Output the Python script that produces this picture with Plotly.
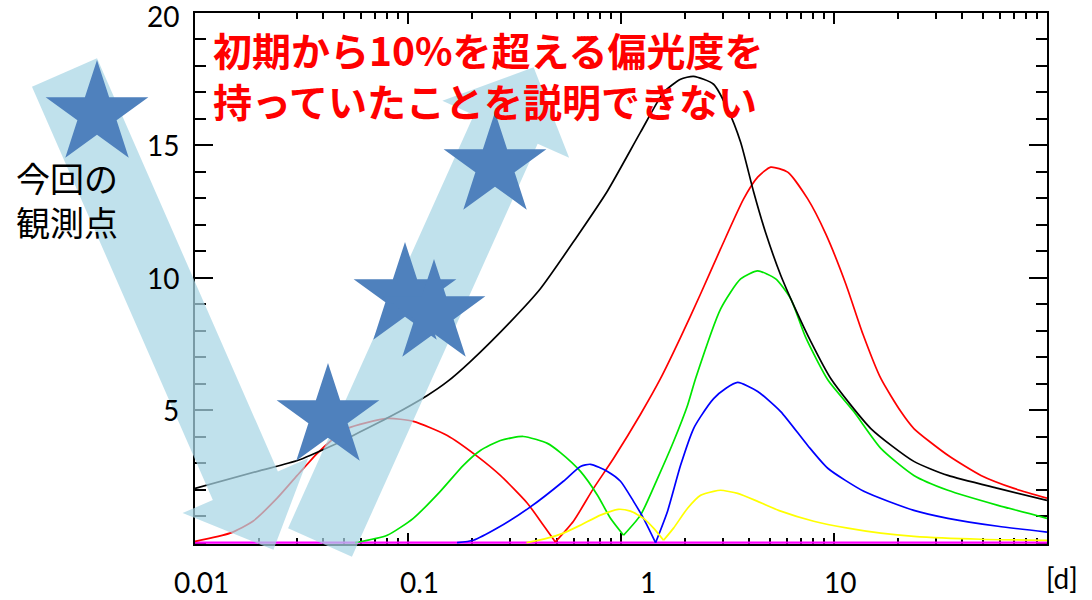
import math
import plotly.graph_objects as go

# ---------------- data ----------------
X_TICK_VALUES = [0.01, 0.1, 1, 10]
X_TICK_LABELS = ["0.01", "0.1", "1", "10"]
X_UNIT_LABEL = "[d]"
Y_TICK_VALUES = [5, 10, 15, 20]
Y_TICK_LABELS = ["5", "10", "15", "20"]

black_x = [0.01, 0.0202, 0.0305, 0.0431, 0.0553, 0.0825, 0.1232, 0.1529, 0.1962, 0.3024,
           0.4183, 0.611, 0.864, 1.235, 1.585, 1.904, 2.19, 2.72, 3.17, 3.645, 4.196,
           4.777, 5.621, 6.61, 7.777, 9.654, 14.89, 23.71, 34.25, 58.85, 100]
black_y = [2.05, 2.72, 3.11, 3.63, 4.05, 4.76, 5.56, 6.08, 6.84, 8.34,
           9.59, 11.47, 13.28, 15.50, 17.00, 17.50, 17.61, 17.31, 16.37, 15.12, 13.24,
           11.70, 10.10, 8.80, 7.60, 6.20, 4.31, 3.07, 2.54, 2.05, 1.60]

red_x = [0.01, 0.0146, 0.0187, 0.0243, 0.0302, 0.0375, 0.0431, 0.0518, 0.0799, 0.1059,
         0.1529, 0.2116, 0.2714, 0.3634, 0.4322, 0.492, 0.598, 0.743, 0.922, 1.235,
         1.534, 1.904, 2.365, 2.937, 3.765, 4.382, 5.044, 6.062, 7.526, 9.147,
         11.36, 13.65, 16.59, 20.6, 23.71, 34.25, 48.96, 69.98, 100]
red_y = [0.05, 0.36, 0.81, 1.68, 2.54, 3.37, 3.82, 4.31, 4.69, 4.58,
         4.05, 3.26, 2.54, 1.49, 0.66, 0.03, 0.81, 2.05, 3.18, 4.85,
         6.20, 7.75, 9.40, 11.10, 12.98, 13.80, 14.18, 13.99, 12.98, 11.66,
         9.77, 7.89, 6.20, 4.95, 4.31, 3.30, 2.54, 2.05, 1.68]

green_x = [0.0565, 0.0799, 0.1059, 0.1418, 0.1819, 0.2186, 0.2714, 0.348, 0.4514, 0.5195,
           0.6452, 0.7754, 0.8925, 1.0275, 1.235, 1.485, 1.765, 2.054, 2.24, 2.937,
           3.645, 4.382, 5.325, 6.262, 7.365, 9.348, 12.38, 16.59, 23.71, 34.25,
           58.85, 100]
green_y = [0.0, 0.28, 0.92, 1.94, 2.92, 3.48, 3.86, 4.01, 3.75, 3.40,
           2.69, 1.79, 0.92, 0.28, 1.04, 2.43, 3.82, 5.19, 6.20, 8.83,
           9.96, 10.26, 9.96, 9.21, 7.75, 6.15, 4.95, 3.56, 2.54, 1.98,
           1.41, 0.92]

blue_x = [0.17, 0.2026, 0.2627, 0.3754, 0.5366, 0.6452, 0.719, 0.864, 0.9945, 1.1449,
          1.2759, 1.4534, 1.6542, 1.904, 2.192, 2.365, 2.722, 3.10, 3.5285, 4.382,
          5.621, 7.526, 9.348, 13.8, 23.71, 34.25, 58.85, 100]
blue_y = [0.0, 0.09, 0.55, 1.35, 2.32, 2.88, 2.96, 2.69, 2.32, 1.56,
          0.92, 0.0, 1.19, 2.92, 4.31, 4.76, 5.44, 5.82, 6.05, 5.71,
          4.95, 3.67, 2.81, 1.94, 1.22, 0.92, 0.62, 0.40]

yellow_x = [0.36, 0.4514, 0.5366, 0.6452, 0.801, 0.97, 1.108, 1.276, 1.422, 1.584,
            1.765, 2.054, 2.365, 2.722, 2.937, 3.5285, 4.382, 5.621, 8.032, 11.606,
            16.59, 23.71, 48.96, 100]
yellow_y = [0.0, 0.17, 0.36, 0.66, 1.04, 1.26, 1.19, 0.92, 0.55, 0.09,
            0.55, 1.30, 1.79, 1.94, 1.98, 1.86, 1.56, 1.19, 0.81, 0.55,
            0.36, 0.24, 0.13, 0.09]

magenta_x = [0.01, 100]
magenta_y = [0.0, 0.0]

TITLE_TEXT = "初期から10%を超える偏光度を<br>持っていたことを説明できない"
LEGEND_TEXT = "今回の<br>観測点"

# ---------------- layout geometry (pixels) ----------------
W, H = 1092, 600
ML, MR, MT, MB = 195, 45, 13, 56
PW, PH = W - ML - MR, H - MT - MB


def to_paper(px, py):
    return (px - ML) / PW, (H - MB - py) / PH


def path_from_px(points):
    pts = [to_paper(x, y) for x, y in points]
    return "M " + " L ".join(f"{x:.5f},{y:.5f}" for x, y in pts) + " Z"


def star_points(cx, cy, r_out, ratio=0.382):
    pts = []
    for k in range(10):
        ang = math.radians(-90 + 36 * k)
        r = r_out if k % 2 == 0 else r_out * ratio
        pts.append((cx + r * math.cos(ang), cy + r * math.sin(ang)))
    return pts


def arrow_points(tail, direction, shaft_len, total_len, half_w, head_half):
    dx, dy = direction
    n = math.hypot(dx, dy)
    dx, dy = dx / n, dy / n
    nx, ny = -dy, dx
    tx, ty = tail
    bx, by = tx + dx * shaft_len, ty + dy * shaft_len
    tipx, tipy = tx + dx * total_len, ty + dy * total_len
    return [
        (tx + nx * half_w, ty + ny * half_w),
        (bx + nx * half_w, by + ny * half_w),
        (bx + nx * head_half, by + ny * head_half),
        (tipx, tipy),
        (bx - nx * head_half, by - ny * head_half),
        (bx - nx * half_w, by - ny * half_w),
        (tx - nx * half_w, ty - ny * half_w),
    ]


ARROWS = [
    dict(tail=(64.5, 72.5), direction=(0.401, 0.916), shaft_len=451, total_len=521, half_w=35.5, head_half=68.5),
    dict(tail=(320, 542.5), direction=(0.41, -0.912), shaft_len=453, total_len=521, half_w=35, head_half=69.5),
]
STAR_CENTERS_PX = [(97, 114), (495, 166), (405, 296), (434, 313), (328, 417)]
STAR_RADIUS_PX = 54
X_LABEL_SHIFT_PX = [6, 11, 27, 6]

ARROW_FILL = "rgba(168,213,228,0.72)"
STAR_FILL = "#4F81BD"
TICK_FONT = dict(family="Lato", size=28, color="black")

# ---------------- figure ----------------
fig = go.Figure()

series = [
    (magenta_x, magenta_y, "#FF00FF", 2.2),
    (red_x, red_y, "#FF0000", 1.7),
    (green_x, green_y, "#00E600", 1.7),
    (blue_x, blue_y, "#0000FF", 1.7),
    (yellow_x, yellow_y, "#FFFF00", 1.7),
    (black_x, black_y, "#000000", 1.7),
]


def split_at_cusps(xs, ys):
    segs = []
    start = 0
    for i in range(1, len(ys) - 1):
        if ys[i] < ys[i - 1] and ys[i] < ys[i + 1] and ys[i] < 0.4:
            segs.append((xs[start:i + 1], ys[start:i + 1]))
            start = i
    segs.append((xs[start:], ys[start:]))
    return segs


for xs, ys, color, width in series:
    for sx, sy in split_at_cusps(xs, ys):
        fig.add_trace(go.Scatter(
            x=sx, y=sy, mode="lines",
            line=dict(color=color, width=width, shape="spline", smoothing=0.6),
            showlegend=False, hoverinfo="skip",
        ))

shapes = []
for a in ARROWS:
    shapes.append(dict(type="path", xref="paper", yref="paper", layer="above",
                       path=path_from_px(arrow_points(**a)),
                       fillcolor=ARROW_FILL, line=dict(width=0)))
for cx, cy in STAR_CENTERS_PX:
    shapes.append(dict(type="path", xref="paper", yref="paper", layer="above",
                       path=path_from_px(star_points(cx, cy, STAR_RADIUS_PX)),
                       fillcolor=STAR_FILL, line=dict(width=0)))

annotations = []
label_y = to_paper(0, 582)[1]
for val, txt, shift in zip(X_TICK_VALUES, X_TICK_LABELS, X_LABEL_SHIFT_PX):
    annotations.append(dict(x=math.log10(val), y=label_y, xref="x", yref="paper",
                            text=txt, showarrow=False, xanchor="center", yanchor="middle",
                            xshift=shift, font=TICK_FONT))
ux, uy = to_paper(1062, 578)
annotations.append(dict(x=ux, y=uy, xref="paper", yref="paper", text=X_UNIT_LABEL,
                        showarrow=False, xanchor="center", yanchor="middle", font=TICK_FONT))

ylab_x = to_paper(181, 0)[0]
for val, txt in zip(Y_TICK_VALUES, Y_TICK_LABELS):
    annotations.append(dict(x=ylab_x, y=val, xref="paper", yref="y", text=txt,
                            showarrow=False, xanchor="right", yanchor="middle",
                            yshift=-3 if val == 20 else 0, font=TICK_FONT))

tx, ty = to_paper(211, 74.5)
annotations.append(dict(x=tx, y=ty, xref="paper", yref="paper", text=f"<b>{TITLE_TEXT}</b>",
                        showarrow=False, xanchor="left", yanchor="middle", align="left",
                        font=dict(family="Noto Sans CJK JP", size=39, color="#FF0000")))

lx, ly = to_paper(67, 199)
annotations.append(dict(x=lx, y=ly, xref="paper", yref="paper", text=LEGEND_TEXT,
                        showarrow=False, xanchor="center", yanchor="middle", align="left",
                        font=dict(family="Noto Sans CJK JP", size=34, color="black")))

fig.update_layout(
    width=W, height=H,
    margin=dict(l=ML, r=MR, t=MT, b=MB, pad=0),
    paper_bgcolor="white", plot_bgcolor="white",
    font=dict(family="Lato", size=28, color="black"),
    shapes=shapes, annotations=annotations,
    showlegend=False,
)
fig.update_xaxes(
    type="log", range=[-2, 2], showgrid=False, zeroline=False,
    showline=True, linecolor="black", linewidth=2, mirror="allticks",
    ticks="inside", ticklen=11, tickwidth=1.5, tickcolor="black",
    tickvals=X_TICK_VALUES, showticklabels=False, layer="below traces",
    minor=dict(ticks="inside", ticklen=6, tickwidth=1.5, tickcolor="black", dtick="D1", showgrid=False),
)
fig.update_yaxes(
    range=[-0.05, 20], showgrid=False, zeroline=False,
    showline=True, linecolor="black", linewidth=2, mirror="allticks",
    ticks="inside", ticklen=18, tickwidth=1.5, tickcolor="black",
    tickvals=Y_TICK_VALUES, showticklabels=False, layer="below traces",
    minor=dict(ticks="inside", ticklen=11, tickwidth=1.5, tickcolor="black", dtick=1, showgrid=False),
)

fig.write_html("out.html")
